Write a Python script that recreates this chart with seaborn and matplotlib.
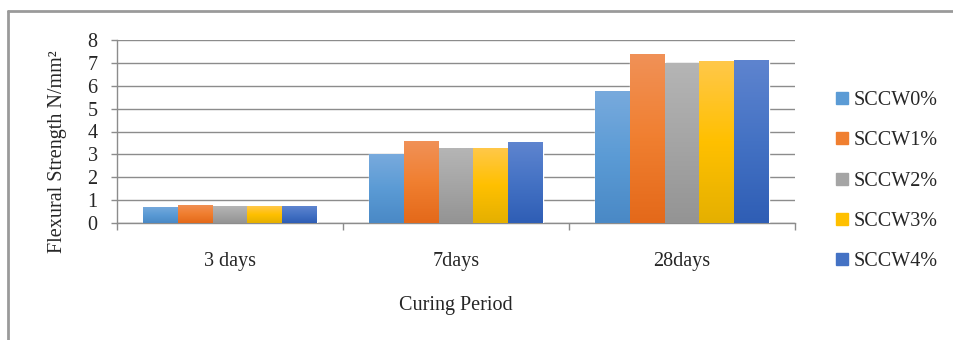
import numpy as np
import pandas as pd
import seaborn as sns
import matplotlib.pyplot as plt
from matplotlib.colors import LinearSegmentedColormap, to_rgb
from matplotlib.lines import Line2D

# data
periods = ["3 days", "7days", "28days"]
mixes = ["SCCW0%", "SCCW1%", "SCCW2%", "SCCW3%", "SCCW4%"]
sccw0 = [0.70, 3.00, 5.78]
sccw1 = [0.80, 3.57, 7.39]
sccw2 = [0.74, 3.26, 7.01]
sccw3 = [0.73, 3.30, 7.09]
sccw4 = [0.74, 3.52, 7.13]

colors = ["#5B9BD5", "#F07F30", "#A5A5A5", "#FFC000", "#4472C4"]
tops = ["#78AADD", "#F19157", "#B5B5B5", "#FFC84A", "#5E84CF"]
bottoms = ["#4A89C6", "#E4691A", "#949494", "#E5B000", "#2F5EB5"]

rows = []
for mix, vals in zip(mixes, [sccw0, sccw1, sccw2, sccw3, sccw4]):
    for p, v in zip(periods, vals):
        rows.append({"period": p, "mix": mix, "value": v})
df = pd.DataFrame(rows)

sns.set_style("white")
plt.rcParams["font.family"] = ["Liberation Serif", "DejaVu Serif"]

fig = plt.figure(figsize=(9.54, 3.40), dpi=100)
ax = fig.add_axes([117 / 954, 1 - 223 / 340, (795 - 117) / 954, (223 - 40) / 340])

sns.barplot(data=df, x="period", y="value", hue="mix", palette=colors,
            saturation=1, width=0.77, ax=ax, legend=False, zorder=3)

# vertical gradient inside each bar, like the office chart style
for patch in list(ax.patches):
    fc = patch.get_facecolor()
    idx = None
    for i, c in enumerate(colors):
        if np.allclose(fc[:3], to_rgb(c), atol=0.01):
            idx = i
    x0, y0 = patch.get_x(), patch.get_y()
    w, h = patch.get_width(), patch.get_height()
    if idx is None or w <= 0 or h <= 0 or not np.isfinite(h):
        continue
    cmap = LinearSegmentedColormap.from_list(
        "g", [bottoms[idx], colors[idx], tops[idx]])
    grad = np.linspace(0, 1, 64).reshape(-1, 1)
    im = ax.imshow(grad, extent=[x0, x0 + w, y0, y0 + h], origin="lower",
                   aspect="auto", cmap=cmap, zorder=3.5)
    im.set_clip_path(patch)

ax.set_xlim(-0.5, 2.5)
ax.set_ylim(0, 8)
ax.set_yticks(range(0, 9))
ax.yaxis.grid(True, color="#8C8C8C", linewidth=1.0)
ax.set_axisbelow(True)

for side in ["top", "right"]:
    ax.spines[side].set_visible(False)
for side in ["left", "bottom"]:
    ax.spines[side].set_color("#8C8C8C")
    ax.spines[side].set_linewidth(1.0)

ax.set_xticks([0, 1, 2])
ax.set_xticklabels(periods)
ax.set_xticks([-0.5, 0.5, 1.5, 2.5], minor=True)
ax.tick_params(axis="x", which="major", length=0, pad=21, labelsize=14.5)
ax.tick_params(axis="x", which="minor", length=5, direction="out",
               color="#8C8C8C", width=1, bottom=True)
ax.tick_params(axis="y", length=4, direction="out", color="#8C8C8C",
               width=1, pad=10, labelsize=14.5, left=True)

ax.set_xlabel("Curing Period", fontsize=14.5, labelpad=18)
ax.set_ylabel("Flexural Strength N/mm²", fontsize=14.5)
ax.yaxis.set_label_coords(-0.074, 0.39)

handles = [Line2D([], [], marker="s", linestyle="none", markersize=8.5,
                  markerfacecolor=c, markeredgecolor=c) for c in colors]
ax.legend(handles, mixes, loc="center left",
          bbox_to_anchor=(828 / 954, 1 - 181 / 340),
          bbox_transform=fig.transFigure, frameon=False, fontsize=14.5,
          handlelength=0.6, handletextpad=0.25, labelspacing=1.05,
          borderaxespad=0)

# the outer frame of the original figure (left and top edges only)
fig.add_artist(Line2D([8.5 / 954, 8.5 / 954], [0, 1 - 11 / 340],
                      transform=fig.transFigure, color="#9A9A9A", linewidth=2))
fig.add_artist(Line2D([8.5 / 954, 1], [1 - 11 / 340, 1 - 11 / 340],
                      transform=fig.transFigure, color="#9A9A9A", linewidth=2))

fig.savefig("out.png", dpi=100)
